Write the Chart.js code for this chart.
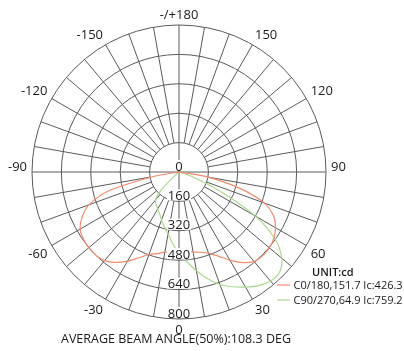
<!DOCTYPE html>
<html>
<head>
<meta charset="utf-8">
<script src="https://cdn.jsdelivr.net/npm/chart.js@4.4.0/dist/chart.umd.min.js"></script>
<style>
  html, body { margin: 0; padding: 0; background: #fff; }
  .chart-box { position: relative; width: 404px; height: 351px; }
</style>
</head>
<body>
<div class="chart-box"><canvas id="polarChart"></canvas></div>
<script>
// gamma angles of the lower half, 0 = straight down, + = right side
const gammaAngles = [-90, -85, -80, -75, -70, -65, -60, -55, -50, -45, -40, -35, -30, -25, -20, -15, -10, -5,
  0, 5, 10, 15, 20, 25, 30, 35, 40, 45, 50, 55, 60, 65, 70, 75, 80, 85, 90];
// intensity in cd
const c0Values = [0, 0, 140, 395, 522, 582, 622, 635, 641, 640, 630, 600, 560, 515, 478, 460, 443, 435,
  428, 434, 442, 452, 470, 505, 555, 602, 636, 644, 642, 630, 606, 568, 495, 340, 160, 0, 0];
const c90Values = [0, 0, 0, 0, 0, 0, 0, 0, 20, 135, 200, 216, 232, 251, 277, 309, 344, 391,
  445, 490, 546, 602, 653, 689, 723, 755, 775, 773, 730, 640, 480, 250, 80, 0, 0, 0, 0];
const angleTicks = [0, -30, -60, -90, -120, -150, 180, 150, 120, 90, 60, 30];
const intensityTicks = [0, 160, 320, 480, 640, 800];
const seriesNames = ['C0/180,151.7 Ic:426.3', 'C90/270,64.9 Ic:759.2'];
const seriesColors = ['#f28a6c', '#a9d98f'];
const unitLabel = 'UNIT:cd';
const beamTitle = 'AVERAGE BEAM ANGLE(50%):108.3 DEG';

const gridColor = '#5a5a5a';
const textColor = '#1a1a1a';
const fontFamily = "'Open Sans', 'Noto Sans', sans-serif";

// radar goes clockwise from the bottom: 0, -5, ... -175, 180, 175, ... 5
const radarAngles = [];
for (let i = 0; i < 72; i++) {
  let g = -5 * i;
  if (g <= -180) g += 360;
  radarAngles.push(g);
}
const toRadar = (values) => radarAngles.map(g => {
  const k = gammaAngles.indexOf(g);
  return k >= 0 ? values[k] : 0;
});

const polarDecor = {
  id: 'polarDecor',
  beforeDatasetsDraw(chart) {
    const r = chart.scales.r;
    const ctx = chart.ctx;
    const inner = r.getDistanceFromCenterForValue(intensityTicks[1]);
    const outer = r.getDistanceFromCenterForValue(intensityTicks[intensityTicks.length - 1]);
    ctx.save();
    ctx.strokeStyle = gridColor;
    ctx.lineWidth = 1;
    radarAngles.forEach((g, i) => {
      if (g % 10 !== 0) return;
      const a = r.getPointPosition(i, g % 90 === 0 ? 0 : inner);
      const b = r.getPointPosition(i, outer);
      ctx.beginPath();
      ctx.moveTo(a.x, a.y);
      ctx.lineTo(b.x, b.y);
      ctx.stroke();
    });
    ctx.restore();
  },
  afterDatasetsDraw(chart) {
    const r = chart.scales.r;
    const ctx = chart.ctx;
    ctx.save();
    ctx.fillStyle = textColor;

    // angle labels round the outside
    ctx.font = '13px ' + fontFamily;
    radarAngles.forEach((g, i) => {
      if (!angleTicks.includes(g)) return;
      const p = r.getPointPosition(i, r.drawingArea + 5);
      const dx = p.x - r.xCenter;
      ctx.textAlign = dx > 1 ? 'left' : dx < -1 ? 'right' : 'center';
      ctx.textBaseline = 'alphabetic';
      const y = Math.abs(g) >= 90 ? p.y - 1 : p.y + 10;
      ctx.fillText(g === 180 ? '-/+180' : String(g), p.x, y);
    });

    // intensity labels down the 0 axis
    ctx.textAlign = 'center';
    intensityTicks.forEach(v => {
      const p = r.getPointPosition(0, r.getDistanceFromCenterForValue(v));
      const label = String(v);
      const w = ctx.measureText(label).width;
      const base = p.y - 1.5;
      ctx.fillStyle = '#fff';
      ctx.fillRect(p.x - w / 2 - 1, base - 10.5, w + 2, 11);
      ctx.fillStyle = textColor;
      ctx.fillText(label, p.x, base);
    });

    // legend
    ctx.textAlign = 'left';
    ctx.font = '600 11px ' + fontFamily;
    ctx.fillText(unitLabel, 312, 276);
    ctx.font = '11px ' + fontFamily;
    chart.data.datasets.forEach((ds, k) => {
      const y = 285 + k * 15;
      ctx.strokeStyle = ds.borderColor;
      ctx.lineWidth = 1.2;
      ctx.beginPath();
      ctx.moveTo(277, y);
      ctx.lineTo(290, y);
      ctx.stroke();
      ctx.fillStyle = textColor;
      ctx.fillText(ds.label, 293.5, y + 4);
    });

    // beam angle line at the bottom
    ctx.textAlign = 'center';
    ctx.font = '12.5px ' + fontFamily;
    ctx.fillText(beamTitle, 176, 342.5);
    ctx.restore();
  }
};

const ctx = document.getElementById('polarChart').getContext('2d');
new Chart(ctx, {
  type: 'radar',
  data: {
    labels: radarAngles,
    datasets: [
      {
        label: seriesNames[0],
        data: toRadar(c0Values),
        borderColor: seriesColors[0],
        borderWidth: 1.2,
        fill: false,
        tension: 0.3,
        pointRadius: 0,
      },
      {
        label: seriesNames[1],
        data: toRadar(c90Values),
        borderColor: seriesColors[1],
        borderWidth: 1.2,
        fill: false,
        tension: 0.3,
        pointRadius: 0,
      },
    ],
  },
  options: {
    responsive: true,
    maintainAspectRatio: false,
    animation: false,
    layout: { padding: { left: 32, right: 78, top: 25, bottom: 32 } },
    plugins: {
      legend: { display: false },
      tooltip: { enabled: false },
    },
    scales: {
      r: {
        min: 0,
        max: 800,
        startAngle: 180,
        ticks: { display: false, stepSize: 160 },
        grid: { circular: true, color: gridColor, lineWidth: 1 },
        angleLines: { display: false },
        pointLabels: { display: false },
      },
    },
  },
  plugins: [polarDecor],
});
</script>
</body>
</html>
